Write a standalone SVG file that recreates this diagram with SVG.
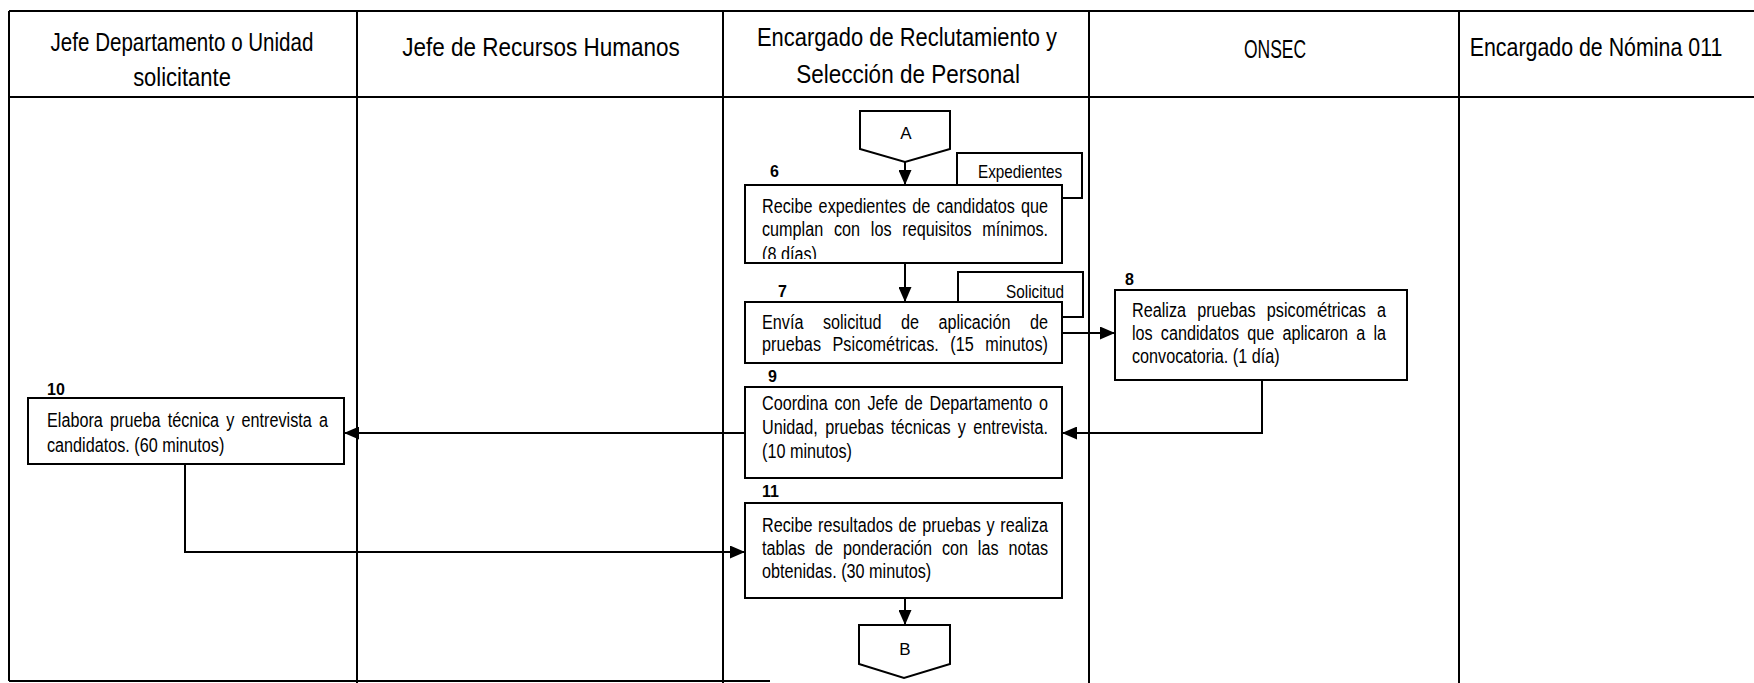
<svg xmlns="http://www.w3.org/2000/svg" width="1754" height="683" viewBox="0 0 1754 683">
<style>
.ln{stroke:#000;stroke-width:2;fill:none}
.cn{stroke:#000;stroke-width:2;fill:none}
.box{fill:#fff;stroke:#000;stroke-width:2}
.t{font-family:"Liberation Sans",Arial,sans-serif;font-size:20px;fill:#000}
.h{font-family:"Liberation Sans",Arial,sans-serif;font-size:25px;fill:#000;text-anchor:middle}
.n{font-family:"Liberation Sans",Arial,sans-serif;font-size:16px;font-weight:bold;fill:#000}
.c{font-family:"Liberation Sans",Arial,sans-serif;font-size:17px;fill:#000;text-anchor:middle}
</style>
<defs>
<marker id="arr" markerUnits="userSpaceOnUse" markerWidth="15" markerHeight="13" viewBox="0 0 15 13" refX="15" refY="6.5" orient="auto">
<path d="M0,0 L15,6.5 L0,13 z" fill="#000"/>
</marker>
<clipPath id="clip6"><rect x="745" y="185" width="317" height="74"/></clipPath>
</defs>
<rect width="1754" height="683" fill="#fff"/>
<g id="table">
<path class="ln" d="M9,11 H1754 M9,97 H1754 M9,11 V681 M9,681 H770 M357,11 V683 M723,11 V683 M1089,11 V683 M1459,11 V683"/>
<text class="h" transform="translate(182,51) scale(0.823,1)">Jefe Departamento o Unidad</text>
<text class="h" transform="translate(182,86) scale(0.88,1)">solicitante</text>
<text class="h" transform="translate(541,56) scale(0.9,1)">Jefe de Recursos Humanos</text>
<text class="h" transform="translate(907,46) scale(0.878,1)">Encargado de Reclutamiento y</text>
<text class="h" transform="translate(908,83) scale(0.9,1)">Selección de Personal</text>
<text class="h" transform="translate(1275,58) scale(0.7,1)">ONSEC</text>
<text class="h" transform="translate(1596,56) scale(0.855,1)">Encargado de Nómina 011</text>
</g>
<g id="connectors">
<path class="cn" d="M905,162 V185" marker-end="url(#arr)"/>
<path class="cn" d="M905,263 V302" marker-end="url(#arr)"/>
<path class="cn" d="M1062,333 H1115" marker-end="url(#arr)"/>
<path class="cn" d="M1262,380 V433 H1062" marker-end="url(#arr)"/>
<path class="cn" d="M745,433 H344" marker-end="url(#arr)"/>
<path class="cn" d="M185,464 V552 H745" marker-end="url(#arr)"/>
<path class="cn" d="M905,598 V625" marker-end="url(#arr)"/>
</g>
<g id="connA">
<polygon class="box" points="860,111 950,111 950,149 905,162 860,149"/>
<text class="c" x="906" y="139">A</text>
</g>
<g id="docExpedientes">
<rect class="box" x="957" y="153" width="125" height="45"/>
<text class="t" transform="translate(1020,178) scale(0.85,1)" text-anchor="middle" style="font-size:18px">Expedientes</text>
</g>
<g id="step6">
<text class="n" x="770" y="177">6</text>
<rect class="box" x="745" y="185" width="317" height="78"/>
<g clip-path="url(#clip6)">
<text class="t" transform="translate(762,213) scale(0.81,1)" word-spacing="2.1" textLength="353.1" lengthAdjust="spacing">Recibe expedientes de candidatos que</text>
<text class="t" transform="translate(762,236) scale(0.81,1)" word-spacing="7.7" textLength="353.1" lengthAdjust="spacing">cumplan con los requisitos mínimos.</text>
<text class="t" transform="translate(762,261) scale(0.81,1)">(8 días)</text>
</g>
</g>
<g id="docSolicitud">
<rect class="box" x="958" y="272" width="125" height="45"/>
<text class="t" transform="translate(1035,298) scale(0.85,1)" text-anchor="middle" style="font-size:18px">Solicitud</text>
</g>
<g id="step7">
<text class="n" x="778" y="297">7</text>
<rect class="box" x="745" y="302" width="317" height="61"/>
<text class="t" transform="translate(762,329) scale(0.81,1)" word-spacing="18.5" textLength="353.1" lengthAdjust="spacing">Envía solicitud de aplicación de</text>
<text class="t" transform="translate(762,351) scale(0.81,1)" word-spacing="8.4" textLength="353.1" lengthAdjust="spacing">pruebas Psicométricas. (15 minutos)</text>
</g>
<g id="step8">
<text class="n" x="1125" y="285">8</text>
<rect class="box" x="1115" y="290" width="292" height="90"/>
<text class="t" transform="translate(1132,317) scale(0.81,1)" word-spacing="8.2" textLength="313.6" lengthAdjust="spacing">Realiza pruebas psicométricas a</text>
<text class="t" transform="translate(1132,340) scale(0.81,1)" word-spacing="4.5" textLength="313.6" lengthAdjust="spacing">los candidatos que aplicaron a la</text>
<text class="t" transform="translate(1132,363) scale(0.81,1)">convocatoria. (1 día)</text>
</g>
<g id="step9">
<text class="n" x="768" y="382">9</text>
<rect class="box" x="745" y="387" width="317" height="91"/>
<text class="t" transform="translate(762,410) scale(0.81,1)" word-spacing="2.8" textLength="353.1" lengthAdjust="spacing">Coordina con Jefe de Departamento o</text>
<text class="t" transform="translate(762,434) scale(0.81,1)" word-spacing="3.5" textLength="353.1" lengthAdjust="spacing">Unidad, pruebas técnicas y entrevista.</text>
<text class="t" transform="translate(762,458) scale(0.81,1)">(10 minutos)</text>
</g>
<g id="step10">
<text class="n" x="47" y="395">10</text>
<rect class="box" x="28" y="398" width="316" height="66"/>
<text class="t" transform="translate(47,427) scale(0.81,1)" word-spacing="3.3" textLength="346.9" lengthAdjust="spacing">Elabora prueba técnica y entrevista a</text>
<text class="t" transform="translate(47,452) scale(0.81,1)">candidatos. (60 minutos)</text>
</g>
<g id="step11">
<text class="n" x="762" y="497">11</text>
<rect class="box" x="745" y="503" width="317" height="95"/>
<text class="t" transform="translate(762,532) scale(0.81,1)" word-spacing="1.5" textLength="353.1" lengthAdjust="spacing">Recibe resultados de pruebas y realiza</text>
<text class="t" transform="translate(762,555) scale(0.81,1)" word-spacing="6.6" textLength="353.1" lengthAdjust="spacing">tablas de ponderación con las notas</text>
<text class="t" transform="translate(762,578) scale(0.81,1)">obtenidas. (30 minutos)</text>
</g>
<g id="connB">
<polygon class="box" points="859,625 950,625 950,664 904,678 859,664"/>
<text class="c" x="905" y="655">B</text>
</g>
</svg>
